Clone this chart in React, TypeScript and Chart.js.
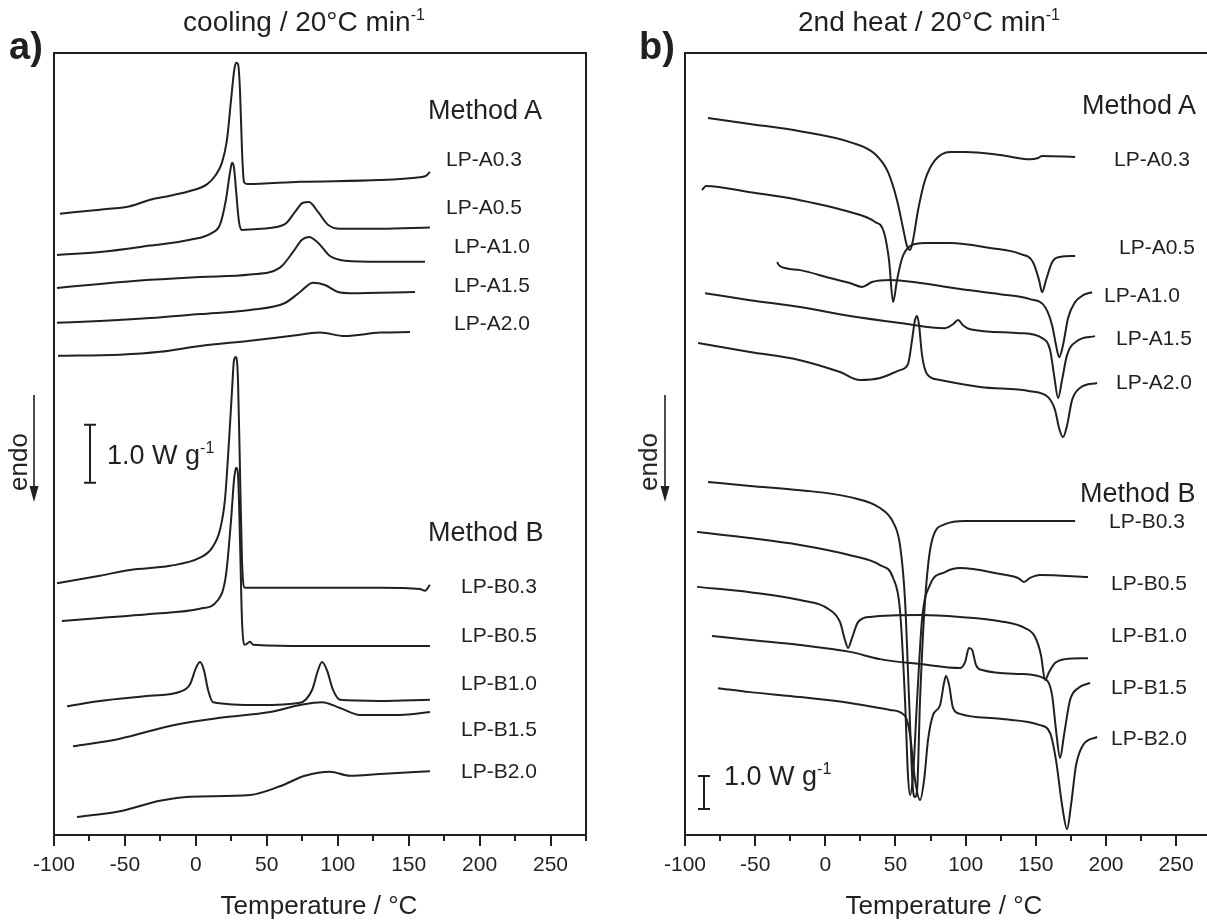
import React, { useEffect, useRef } from "react";
import { Chart, registerables } from "chart.js";

Chart.register(...registerables);

// ---------------- data: panel a) cooling, T in °C, heat flow in W/g (offset) ----------------
const coolA03T = [-95.8, -67.6, -46.4, -32.3, -18.2, -4.1, 8.0, 13.5, 18.4, 21.9, 24.8, 26.9, 28.3, 29.7, 31.1, 32.5, 33.9, 36.0, 73.4, 129.8, 158.0, 162.2, 165.0];
const coolA03Q = [10.71, 10.78, 10.84, 10.95, 11.02, 11.1, 11.22, 11.36, 11.59, 11.98, 12.67, 13.16, 13.31, 13.29, 12.84, 11.81, 11.26, 11.22, 11.26, 11.29, 11.34, 11.36, 11.43];
const coolA05T = [-97.9, -67.6, -32.3, -4.1, 11.4, 17.0, 21.2, 24.1, 25.5, 26.9, 28.3, 30.4, 32.5, 45.2, 62.8, 69.9, 75.5, 79.7, 86.1, 93.1, 101.6, 129.8, 165.0];
const coolA05Q = [10.0, 10.05, 10.16, 10.26, 10.38, 10.52, 10.95, 11.43, 11.59, 11.5, 11.12, 10.57, 10.43, 10.45, 10.53, 10.74, 10.9, 10.91, 10.74, 10.52, 10.45, 10.45, 10.47];
const coolA10T = [-97.9, -67.6, -32.3, 2.9, 38.2, 59.3, 68.5, 74.8, 79.7, 86.1, 94.5, 105.1, 129.8, 161.5];
const coolA10Q = [9.43, 9.5, 9.57, 9.62, 9.66, 9.78, 10.05, 10.26, 10.31, 10.21, 9.98, 9.9, 9.88, 9.88];
const coolA15T = [-97.9, -67.6, -32.3, 2.9, 38.2, 62.8, 73.4, 82.6, 91.0, 100.2, 108.6, 154.5];
const coolA15Q = [8.83, 8.86, 8.91, 8.98, 9.05, 9.17, 9.36, 9.52, 9.48, 9.36, 9.34, 9.36];
const coolA20T = [-97.2, -53.5, -25.3, 2.9, 38.2, 66.3, 87.5, 105.1, 129.8, 150.9];
const coolA20Q = [8.26, 8.28, 8.33, 8.43, 8.52, 8.6, 8.66, 8.6, 8.66, 8.67];
const coolB03T = [-97.9, -67.6, -46.4, -18.2, 2.9, 11.4, 17.0, 20.5, 23.4, 25.5, 26.9, 28.3, 29.7, 31.1, 32.5, 34.6, 73.4, 129.8, 158.0, 161.5, 165.0];
const coolB03Q = [4.34, 4.47, 4.57, 4.64, 4.78, 4.95, 5.26, 5.78, 6.81, 7.67, 8.19, 8.24, 7.84, 6.29, 4.74, 4.26, 4.26, 4.26, 4.24, 4.21, 4.31];
const coolB05T = [-94.4, -67.6, -32.3, 2.9, 15.6, 21.2, 24.8, 26.9, 28.3, 29.7, 31.1, 32.5, 34.6, 38.2, 40.3, 73.4, 165.0];
const coolB05Q = [3.69, 3.74, 3.81, 3.9, 4.05, 4.48, 5.43, 6.12, 6.33, 6.21, 5.09, 3.71, 3.28, 3.33, 3.28, 3.26, 3.26];
const coolB10T = [-90.8, -67.6, -32.3, -11.2, -4.1, 0.1, 2.9, 5.7, 8.6, 12.1, 45.2, 73.4, 81.9, 86.1, 88.9, 92.4, 96.7, 101.6, 129.8, 165.0];
const coolB10Q = [2.22, 2.31, 2.4, 2.47, 2.6, 2.88, 2.98, 2.84, 2.5, 2.29, 2.24, 2.28, 2.5, 2.84, 2.98, 2.84, 2.5, 2.33, 2.31, 2.33];
const coolB15T = [-86.6, -53.5, -18.2, 17.0, 52.3, 73.4, 88.9, 101.6, 115.7, 143.9, 165.0];
const coolB15Q = [1.53, 1.66, 1.88, 2.02, 2.12, 2.24, 2.29, 2.19, 2.07, 2.07, 2.12];
const coolB20T = [-83.8, -53.5, -25.3, -4.1, 38.2, 59.3, 76.9, 94.5, 108.6, 129.8, 165.0];
const coolB20Q = [0.31, 0.41, 0.59, 0.66, 0.69, 0.84, 1.02, 1.09, 1.02, 1.05, 1.1];

// ---------------- data: panel b) 2nd heat ----------------
const heatA03T = [-83.6, -53.7, -18.0, 17.6, 35.4, 44.7, 51.1, 55.4, 58.2, 60.4, 62.5, 66.1, 71.1, 78.2, 88.9, 99.6, 124.5, 145.9, 151.6, 154.5, 178.0];
const heatA03Q = [21.73, 21.55, 21.33, 21.0, 20.64, 20.09, 19.24, 18.39, 17.85, 17.73, 18.03, 18.94, 19.85, 20.45, 20.7, 20.7, 20.61, 20.48, 20.52, 20.58, 20.55];
const heatA05T = [-87.9, -85.0, -53.7, -18.0, 17.6, 35.4, 41.8, 45.4, 48.3, 51.1, 54.7, 60.4, 71.1, 88.9, 117.4, 138.8, 148.0, 152.3, 154.5, 157.3, 161.6, 167.3, 178.0];
const heatA05Q = [19.55, 19.67, 19.48, 19.24, 18.88, 18.58, 18.27, 17.42, 16.15, 16.82, 17.48, 17.85, 17.94, 17.94, 17.79, 17.61, 17.36, 16.82, 16.45, 16.82, 17.36, 17.52, 17.55];
const heatA10T = [-34.4, -32.3, -18.0, 3.3, 17.6, 26.2, 33.3, 46.1, 67.5, 96.0, 124.5, 145.9, 156.6, 161.6, 164.4, 166.6, 169.4, 173.0, 178.0, 183.7, 190.1];
const heatA10Q = [17.36, 17.24, 17.12, 16.88, 16.73, 16.61, 16.76, 16.82, 16.73, 16.55, 16.39, 16.24, 16.0, 15.45, 14.85, 14.48, 14.85, 15.67, 16.15, 16.36, 16.45];
const heatA15T = [-85.7, -53.7, -18.0, 17.6, 53.2, 85.3, 91.0, 94.6, 98.1, 103.1, 138.8, 154.5, 160.2, 163.0, 165.9, 168.7, 172.3, 179.4, 192.2];
const heatA15Q = [16.42, 16.21, 16.0, 15.73, 15.52, 15.36, 15.48, 15.61, 15.45, 15.33, 15.21, 15.06, 14.7, 13.94, 13.24, 13.79, 14.55, 14.97, 15.12];
const heatA20T = [-90.7, -53.7, -18.0, 10.5, 24.7, 39.0, 53.2, 58.9, 61.8, 63.9, 65.4, 66.8, 68.9, 72.5, 81.8, 110.3, 145.9, 158.7, 163.7, 166.6, 169.4, 172.3, 175.8, 181.5, 193.7];
const heatA20Q = [14.91, 14.64, 14.39, 14.03, 13.79, 13.85, 14.09, 14.27, 15.0, 15.61, 15.73, 15.45, 14.55, 13.97, 13.79, 13.58, 13.45, 13.27, 12.88, 12.33, 12.06, 12.42, 13.18, 13.55, 13.7];
const heatB03T = [-83.6, -53.7, -18.0, 17.6, 39.0, 48.3, 53.2, 56.8, 59.7, 62.5, 63.9, 65.4, 67.5, 71.1, 76.1, 85.3, 99.6, 178.0];
const heatB03Q = [10.7, 10.58, 10.45, 10.24, 9.91, 9.48, 8.79, 7.12, 4.09, 1.36, 1.15, 1.36, 4.09, 7.12, 8.94, 9.42, 9.52, 9.52];
const heatB05T = [-91.4, -53.7, -18.0, 17.6, 39.0, 48.3, 53.2, 56.8, 58.9, 60.4, 62.5, 65.4, 68.9, 74.6, 85.3, 96.0, 124.5, 137.3, 141.6, 145.9, 153.0, 187.2];
const heatB05Q = [9.18, 9.0, 8.79, 8.48, 8.18, 7.79, 6.82, 4.09, 1.82, 1.21, 1.82, 4.09, 6.52, 7.58, 7.97, 8.09, 7.91, 7.79, 7.67, 7.79, 7.88, 7.82];
const heatB10T = [-91.4, -53.7, -18.0, 3.3, 10.5, 14.0, 16.2, 19.0, 23.3, 31.9, 67.5, 96.0, 124.5, 142.3, 149.5, 153.7, 156.6, 159.5, 163.7, 170.8, 187.2];
const heatB10Q = [7.52, 7.36, 7.12, 6.82, 6.45, 5.91, 5.67, 5.97, 6.45, 6.61, 6.67, 6.61, 6.48, 6.27, 6.0, 5.45, 4.7, 4.94, 5.21, 5.33, 5.36];
const heatB15T = [-80.8, -53.7, -18.0, 17.6, 39.0, 67.5, 96.0, 99.6, 102.4, 104.6, 107.4, 111.7, 138.8, 156.6, 161.6, 164.4, 167.3, 170.1, 174.4, 180.1, 188.7];
const heatB15Q = [6.03, 5.91, 5.76, 5.55, 5.33, 5.18, 5.06, 5.24, 5.67, 5.61, 5.15, 5.0, 4.88, 4.73, 4.24, 3.18, 2.33, 3.03, 4.09, 4.45, 4.61];
const heatB20T = [-76.5, -53.7, -18.0, 17.6, 46.1, 56.8, 60.4, 63.9, 67.5, 70.4, 73.2, 76.8, 81.8, 84.6, 86.0, 88.2, 91.0, 96.0, 124.5, 153.0, 160.2, 164.4, 168.7, 172.3, 175.1, 178.7, 183.7, 193.7];
const heatB20Q = [4.45, 4.33, 4.18, 4.0, 3.79, 3.61, 3.03, 1.67, 1.06, 1.67, 2.88, 3.64, 3.94, 4.61, 4.82, 4.55, 3.85, 3.67, 3.52, 3.33, 3.09, 2.27, 0.91, 0.18, 0.91, 2.12, 2.73, 2.97];

// tick labels and text
const tickValues = [-100, -50, 0, 50, 100, 150, 200, 250];
const sampleNames = ["LP-A0.3", "LP-A0.5", "LP-A1.0", "LP-A1.5", "LP-A2.0", "LP-B0.3", "LP-B0.5", "LP-B1.0", "LP-B1.5", "LP-B2.0"];
const coolSeries: [number[], number[]][] = [
  [coolA03T, coolA03Q], [coolA05T, coolA05Q], [coolA10T, coolA10Q], [coolA15T, coolA15Q], [coolA20T, coolA20Q],
  [coolB03T, coolB03Q], [coolB05T, coolB05Q], [coolB10T, coolB10Q], [coolB15T, coolB15Q], [coolB20T, coolB20Q],
];
const heatSeries: [number[], number[]][] = [
  [heatA03T, heatA03Q], [heatA05T, heatA05Q], [heatA10T, heatA10Q], [heatA15T, heatA15Q], [heatA20T, heatA20Q],
  [heatB03T, heatB03Q], [heatB05T, heatB05Q], [heatB10T, heatB10Q], [heatB15T, heatB15Q], [heatB20T, heatB20Q],
];

// ---------------- layout (page pixels) ----------------
const FONT = '"Liberation Sans", Arial, Helvetica, sans-serif';
const INK = "#231f20";
const PAGE_W = 1207;
const PAGE_H = 924;
const LABEL_SIZE = 21;
const BIG_SIZE = 27;
const TITLE_SIZE = 28;
const AXIS_TITLE_SIZE = 26;

const coolLabelPos: [number, number][] = [[446, 158], [446, 206], [454, 245], [454, 284], [454, 322], [461, 585], [461, 634], [461, 682], [461, 728], [461, 770]];
const heatLabelPos: [number, number][] = [[1114, 158], [1119, 246], [1104, 294], [1116, 337], [1116, 381], [1109, 520], [1111, 582], [1111, 634], [1111, 686], [1111, 737]];

type PanelProps = {
  left: number;
  width: number;
  pad: { left: number; right: number; top: number; bottom: number };
  xMax: number;
  yMax: number;
  series: [number[], number[]][];
  rightBorder: boolean;
  barT: number;
  barQ: number;
  arrowTop: number;
  arrowBottom: number;
};

function Panel(p: PanelProps) {
  const ref = useRef<HTMLCanvasElement | null>(null);
  useEffect(() => {
    if (!ref.current) return;
    const frame = {
      id: "frame",
      afterDraw(chart: any) {
        const { ctx, chartArea: a, scales } = chart;
        const x = scales.x;
        const y = scales.y;
        ctx.save();
        ctx.strokeStyle = INK;
        ctx.fillStyle = INK;
        ctx.lineWidth = 2;
        ctx.lineCap = "butt";
        ctx.beginPath();
        ctx.moveTo(a.left, a.bottom + 1);
        ctx.lineTo(a.left, a.top);
        ctx.lineTo(p.rightBorder ? a.right : a.right + 2, a.top);
        if (p.rightBorder) ctx.lineTo(a.right, a.bottom);
        ctx.moveTo(a.left - 1, a.bottom);
        ctx.lineTo(a.right + 1, a.bottom);
        ctx.stroke();
        // major / minor ticks
        for (let k = 0; ; k++) {
          const t = -100 + 25 * k;
          if (t > p.xMax + 1e-6) break;
          const px = Math.round(x.getPixelForValue(t));
          const len = t % 50 === 0 ? 11 : 6;
          ctx.beginPath();
          ctx.moveTo(px, a.bottom);
          ctx.lineTo(px, a.bottom + len);
          ctx.stroke();
        }
        // scale bar 1.0 W/g
        const bx = Math.round(x.getPixelForValue(p.barT));
        const b0 = y.getPixelForValue(p.barQ);
        const b1 = y.getPixelForValue(p.barQ + 1);
        ctx.beginPath();
        ctx.moveTo(bx, b0);
        ctx.lineTo(bx, b1);
        ctx.moveTo(bx - 6, b0);
        ctx.lineTo(bx + 6, b0);
        ctx.moveTo(bx - 6, b1);
        ctx.lineTo(bx + 6, b1);
        ctx.stroke();
        // endo arrow
        const ax = a.left - 20;
        ctx.lineWidth = 1.6;
        ctx.beginPath();
        ctx.moveTo(ax, p.arrowTop);
        ctx.lineTo(ax, p.arrowBottom - 12);
        ctx.stroke();
        ctx.beginPath();
        ctx.moveTo(ax - 4.5, p.arrowBottom - 16);
        ctx.lineTo(ax + 4.5, p.arrowBottom - 16);
        ctx.lineTo(ax, p.arrowBottom);
        ctx.closePath();
        ctx.fill();
        ctx.restore();
      },
    };
    const chart = new Chart(ref.current, {
      type: "line",
      data: {
        datasets: p.series.map(([t, q], i) => ({
          label: sampleNames[i],
          data: t.map((v, j) => ({ x: v, y: q[j] })),
          borderColor: INK,
          borderWidth: 2,
          pointRadius: 0,
          fill: false,
          cubicInterpolationMode: "monotone" as const,
        })),
      },
      options: {
        responsive: false,
        animation: false,
        devicePixelRatio: 1,
        events: [],
        layout: { padding: p.pad },
        plugins: { legend: { display: false }, tooltip: { enabled: false }, title: { display: false } },
        scales: {
          x: {
            type: "linear",
            min: -100,
            max: p.xMax,
            grid: { display: false },
            border: { display: false },
            ticks: {
              color: INK,
              font: { family: FONT, size: 21 },
              padding: 10,
              maxRotation: 0,
              autoSkip: false,
              callback: (v: any) => String(v),
            },
            afterBuildTicks: (s: any) => {
              s.ticks = tickValues.map((v) => ({ value: v }));
            },
            afterFit: (s: any) => {
              s.height = 60;
            },
          },
          y: { type: "linear", min: 0, max: p.yMax, display: false },
        },
      },
      plugins: [frame],
    } as any);
    return () => chart.destroy();
  }, []);
  return (
    <canvas
      ref={ref}
      width={p.width}
      height={PAGE_H}
      style={{ position: "absolute", left: p.left, top: 0, width: p.width, height: PAGE_H }}
    />
  );
}

const Sup = ({ children, size = 16, rise = -11 }: { children: React.ReactNode; size?: number; rise?: number }) => (
  <span style={{ fontSize: size, position: "relative", top: rise }}>{children}</span>
);

const txt = (left: number, cy: number, size: number, extra: React.CSSProperties = {}): React.CSSProperties => ({
  position: "absolute",
  left,
  top: cy,
  transform: "translateY(-50%)",
  fontSize: size,
  lineHeight: 1,
  whiteSpace: "nowrap",
  ...extra,
});

const centered = (cx: number, cy: number, size: number): React.CSSProperties => ({
  position: "absolute",
  left: cx,
  top: cy,
  transform: "translate(-50%, -50%)",
  fontSize: size,
  lineHeight: 1,
  whiteSpace: "nowrap",
});

const endoStyle = (cx: number): React.CSSProperties => ({
  position: "absolute",
  left: cx,
  top: 462,
  transform: "translate(-50%, -50%) rotate(-90deg)",
  fontSize: 26,
  lineHeight: 1,
});

export default function App() {
  return (
    <div
      style={{
        position: "absolute",
        left: 0,
        top: 0,
        width: PAGE_W,
        height: PAGE_H,
        overflow: "hidden",
        background: "#fff",
        fontFamily: FONT,
        color: INK,
      }}
    >
      <Panel
        left={0}
        width={600}
        pad={{ left: 54, right: 14, top: 53, bottom: 29 }}
        xMax={275}
        yMax={13.48}
        series={coolSeries}
        rightBorder={true}
        barT={-74.6}
        barQ={6.07}
        arrowTop={395}
        arrowBottom={502}
      />
      <Panel
        left={600}
        width={607}
        pad={{ left: 85, right: 0, top: 53, bottom: 29 }}
        xMax={272}
        yMax={23.7}
        series={heatSeries}
        rightBorder={false}
        barT={-86.5}
        barQ={0.79}
        arrowTop={395}
        arrowBottom={502}
      />

      {/* panel a texts */}
      <div style={txt(9, 46, 38, { fontWeight: "bold" })}>a)</div>
      <div style={centered(304, 22, TITLE_SIZE)}>
        cooling / 20°C min<Sup>-1</Sup>
      </div>
      <div style={txt(428, 110, BIG_SIZE)}>Method A</div>
      <div style={txt(428, 532, BIG_SIZE)}>Method B</div>
      {sampleNames.map((n, i) => (
        <div key={"c" + n} style={txt(coolLabelPos[i][0], coolLabelPos[i][1], LABEL_SIZE)}>
          {n}
        </div>
      ))}
      <div style={txt(107, 455, BIG_SIZE)}>
        1.0 W g<Sup>-1</Sup>
      </div>
      <div style={endoStyle(18)}>endo</div>
      <div style={centered(319, 905, AXIS_TITLE_SIZE)}>Temperature / °C</div>

      {/* panel b texts */}
      <div style={txt(639, 46, 38, { fontWeight: "bold" })}>b)</div>
      <div style={centered(929, 22, TITLE_SIZE)}>
        2nd heat / 20°C min<Sup>-1</Sup>
      </div>
      <div style={txt(1082, 105, BIG_SIZE)}>Method A</div>
      <div style={txt(1080, 493, BIG_SIZE)}>Method B</div>
      {sampleNames.map((n, i) => (
        <div key={"h" + n} style={txt(heatLabelPos[i][0], heatLabelPos[i][1], LABEL_SIZE)}>
          {n}
        </div>
      ))}
      <div style={txt(724, 776, BIG_SIZE)}>
        1.0 W g<Sup>-1</Sup>
      </div>
      <div style={endoStyle(648)}>endo</div>
      <div style={centered(944, 905, AXIS_TITLE_SIZE)}>Temperature / °C</div>
    </div>
  );
}
